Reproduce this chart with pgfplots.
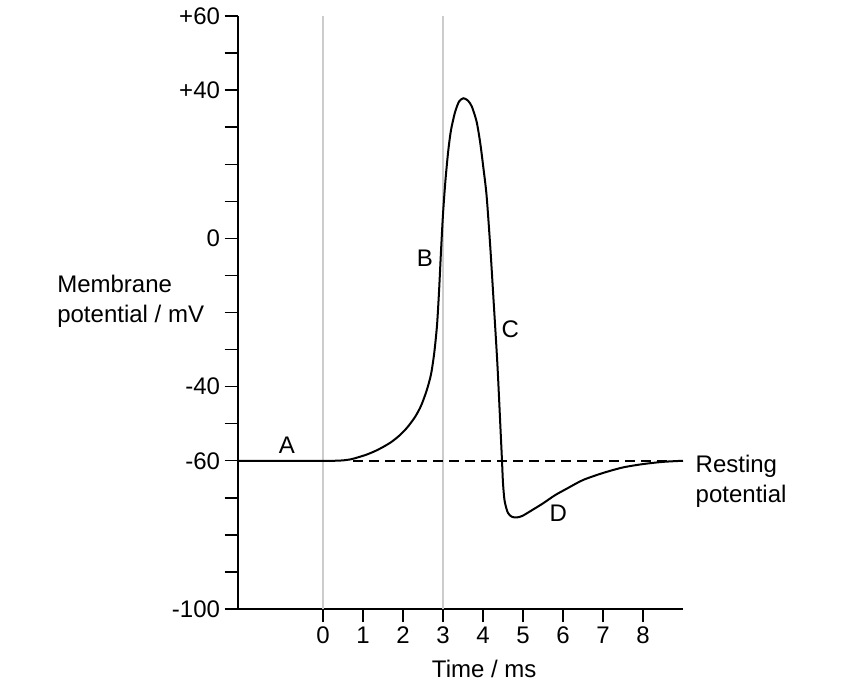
\documentclass[border=0pt]{standalone}
\usepackage{pgfplots}
\pgfplotsset{compat=1.18}
\usepackage{fontspec}
\setmainfont{Liberation Sans}
\newcommand{\lbl}{\fontsize{18}{21}\selectfont}
\begin{document}
\begin{tikzpicture}
\useasboundingbox (-178.5pt,-60.75pt) rectangle (462pt,456.75pt);
\begin{axis}[
    at={(0,0)}, anchor=south west,
    scale only axis, width=333.75pt, height=444.75pt,
    xmin=-2.125, xmax=9, ymin=-100, ymax=60,
    axis x line*=bottom, axis y line*=left,
    axis line style={line width=1.5pt},
    xtick={0,1,...,8},
    ytick={-100,-90,...,60},
    yticklabels={-100,,,,-60,,-40,,,,0,,,,+40,,+60},
    tick align=outside, major tick length=10pt,
    tick style={line width=1.1pt, black},
    tick label style={font=\lbl},
    /pgf/number format/assume math mode=true,
    clip=false,
]
\addplot[gray!40, line width=1pt] coordinates {(0,-100) (0,60)};
\addplot[gray!40, line width=1pt] coordinates {(3,-100) (3,60)};
\addplot[black, line width=1.3pt, dash pattern=on 7.5pt off 4.5pt] coordinates {(0.75,-60) (9,-60)};
\addplot[black, line width=1.5pt, smooth, tension=0.45] coordinates {
    (-2.125,-60) (0,-60) (0.3,-60) (0.5,-59.9) (0.7,-59.6) (0.9,-59.0)
    (1.1,-58.3) (1.3,-57.4) (1.5,-56.3) (1.7,-55) (1.9,-53.3) (2.1,-51.1)
    (2.3,-48.2) (2.45,-45.2) (2.59,-41.1) (2.7,-36.7) (2.78,-31)
    (2.85,-23.5) (2.9,-14.5) (2.95,-3.5) (3.0,6.5) (3.06,15.5) (3.13,23.5)
    (3.2,29.2) (3.3,34) (3.4,36.9) (3.51,37.8) (3.62,37.2) (3.72,35.6)
    (3.84,31.5) (3.93,25.8) (4.01,19) (4.09,11.5) (4.18,-2) (4.26,-16)
    (4.36,-34) (4.44,-52) (4.475,-60) (4.5,-66) (4.54,-70.8) (4.62,-74)
    (4.72,-75.1) (4.84,-75.3) (4.98,-74.9) (5.2,-73.5) (5.5,-71.5)
    (5.8,-69.3) (6.1,-67.5) (6.5,-65.2) (7.0,-63.3) (7.5,-61.8) (8.0,-60.9)
    (8.5,-60.3) (9.0,-60)
};
\node[anchor=base west, font=\lbl] at (axis cs:-6.76,-14.5) {Membrane};
\node[anchor=base west, font=\lbl] at (axis cs:-6.76,-22.6) {potential / mV};
\node[anchor=base west, font=\lbl] at (axis cs:9.2,-63.2) {Resting};
\node[anchor=base west, font=\lbl] at (axis cs:9.2,-71.3) {potential};
\node[anchor=base, font=\lbl] at (axis cs:4.03,-118.4) {Time / ms};
\node[anchor=base, font=\lbl] at (axis cs:-0.9,-58.1) {A};
\node[anchor=base, font=\lbl] at (axis cs:2.55,-7.6) {B};
\node[anchor=base, font=\lbl] at (axis cs:4.68,-26.8) {C};
\node[anchor=base, font=\lbl] at (axis cs:5.88,-76.5) {D};
\end{axis}
\end{tikzpicture}
\end{document}
